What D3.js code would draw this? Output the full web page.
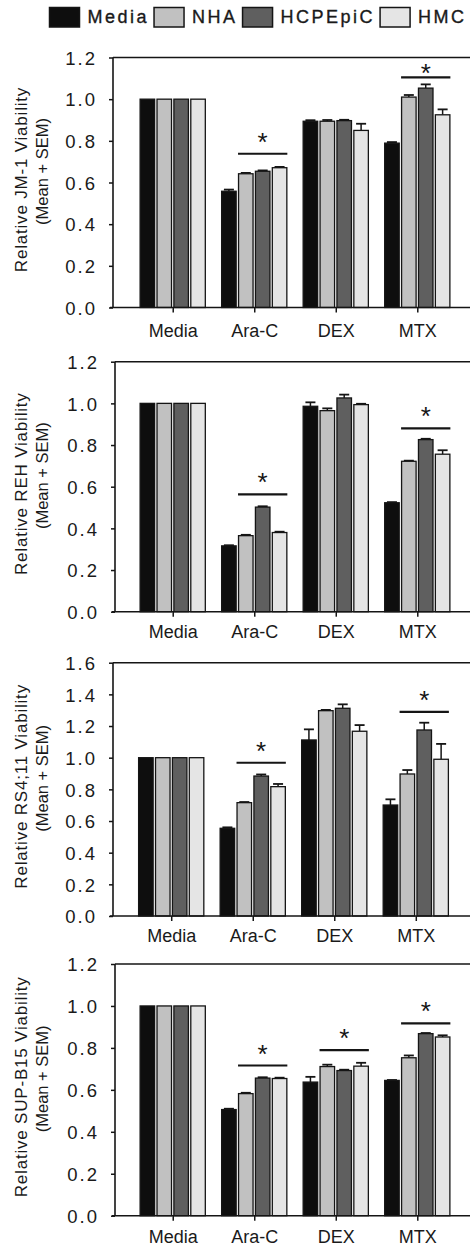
<!DOCTYPE html>
<html>
<head>
<meta charset="utf-8">
<script src="https://cdn.jsdelivr.net/npm/d3@7"></script>
<style>
  html, body { margin: 0; padding: 0; background: #fff; }
  svg { display: block; font-family: "Liberation Sans", Arial, sans-serif; }
</style>
</head>
<body>
<svg id="chart" width="470" height="1249"></svg>
<script>
// Treatments on the x axis and cell lines in each group
const categories = ["Media", "Ara-C", "DEX", "MTX"];
const series = ["Media", "NHA", "HCPEpiC", "HMC"];
const seriesColors = ["#0e0e0e", "#c1c1c1", "#5f5f5f", "#e5e5e5"];

// Relative viability, rows = treatment, columns = cell line
const jm1Mean = [[1, 1, 1, 1], [0.558, 0.642, 0.654, 0.671], [0.894, 0.894, 0.897, 0.850], [0.789, 1.010, 1.053, 0.925]];
const jm1Sem  = [[0, 0, 0, 0], [0.008, 0.004, 0.004, 0.004], [0.005, 0.006, 0.004, 0.032], [0.005, 0.010, 0.018, 0.026]];

const rehMean = [[1, 1, 1, 1], [0.316, 0.365, 0.502, 0.380], [0.986, 0.965, 1.026, 0.994], [0.523, 0.722, 0.826, 0.756]];
const rehSem  = [[0, 0, 0, 0], [0.003, 0.004, 0.004, 0.004], [0.019, 0.011, 0.016, 0.004], [0.003, 0.003, 0.004, 0.019]];

const rs411Mean = [[1, 1, 1, 1], [0.554, 0.716, 0.884, 0.817], [1.112, 1.297, 1.312, 1.167], [0.701, 0.897, 1.175, 0.990]];
const rs411Sem  = [[0, 0, 0, 0], [0.006, 0.004, 0.010, 0.017], [0.067, 0.005, 0.025, 0.039], [0.036, 0.025, 0.046, 0.097]];

const supMean = [[1, 1, 1, 1], [0.506, 0.582, 0.656, 0.654], [0.637, 0.711, 0.692, 0.713], [0.645, 0.753, 0.868, 0.852]];
const supSem  = [[0, 0, 0, 0], [0.004, 0.004, 0.004, 0.004], [0.025, 0.009, 0.004, 0.016], [0.002, 0.011, 0.003, 0.008]];

// Significance bars: treatment and the level of the bar
const jm1Stars = [["Ara-C", 0.738], ["MTX", 1.105]];
const rehStars = [["Ara-C", 0.563], ["MTX", 0.880]];
const rs411Stars = [["Ara-C", 0.968], ["MTX", 1.290]];
const supStars = [["Ara-C", 0.716], ["DEX", 0.789], ["MTX", 0.917]];

const yTicks12 = [0, 0.2, 0.4, 0.6, 0.8, 1.0, 1.2];
const yTicks16 = [0, 0.2, 0.4, 0.6, 0.8, 1.0, 1.2, 1.4, 1.6];

const panels = [
  { line: "JM-1",    mean: jm1Mean,   sem: jm1Sem,   stars: jm1Stars,   max: 1.2, ticks: yTicks12, top: 57.5,  bottom: 307.5,  axisX: 113, left: 113,   labelY: 30 },
  { line: "REH",     mean: rehMean,   sem: rehSem,   stars: rehStars,   max: 1.2, ticks: yTicks12, top: 361.7, bottom: 611.7,  axisX: 115, left: 113,   labelY: 27 },
  { line: "RS4;11",  mean: rs411Mean, sem: rs411Sem, stars: rs411Stars, max: 1.6, ticks: yTicks16, top: 662.7, bottom: 916,    axisX: 113, left: 111.5, labelY: 26.5 },
  { line: "SUP-B15", mean: supMean,   sem: supSem,   stars: supStars,   max: 1.2, ticks: yTicks12, top: 964,   bottom: 1215.7, axisX: 115, left: 113,   labelY: 27.5 }
];

const svg = d3.select("#chart");
const ink = "#151515";

// Legend across the top
const legend = svg.append("g").attr("class", "legend");
let lx = 49.5;
series.forEach((s, i) => {
  legend.append("rect")
    .attr("x", lx).attr("y", 7.5).attr("width", 30).attr("height", 19.5)
    .attr("fill", seriesColors[i]).attr("stroke", ink).attr("stroke-width", 1.5);
  const t = legend.append("text")
    .attr("x", lx + 38).attr("y", 23)
    .attr("font-size", 18).attr("letter-spacing", 2.5)
    .attr("fill", "#1a1a1a").attr("stroke", "#1a1a1a").attr("stroke-width", 0.35)
    .text(s);
  lx += 38 + t.node().getComputedTextLength() + 5;
});

panels.forEach(p => {
  const g = svg.append("g");
  const y = d3.scaleLinear().domain([0, p.max]).range([p.bottom, p.top]);
  const x = d3.scalePoint().domain(categories).range([p.left, p.left + 364]).padding(0.7325);
  const xs = d3.scaleBand().domain(series).range([-32.6, 32.6]).paddingInner(0.14);

  // Bars with upward SEM whiskers
  const groups = g.selectAll("g.grp").data(categories).join("g")
    .attr("transform", c => `translate(${x(c)},0)`);
  groups.each(function (c, ci) {
    const grp = d3.select(this);
    series.forEach((s, si) => {
      const v = p.mean[ci][si];
      const e = p.sem[ci][si];
      const bx = xs(s), bw = xs.bandwidth();
      if (e > 0) {
        const cx = bx + bw / 2;
        grp.append("line").attr("x1", cx).attr("x2", cx).attr("y1", y(v)).attr("y2", y(v + e))
          .attr("stroke", ink).attr("stroke-width", 1.5);
        grp.append("line").attr("x1", cx - 5).attr("x2", cx + 5).attr("y1", y(v + e)).attr("y2", y(v + e))
          .attr("stroke", ink).attr("stroke-width", 1.8);
      }
      grp.append("rect")
        .attr("x", bx).attr("width", bw)
        .attr("y", y(v)).attr("height", y(0) - y(v))
        .attr("fill", seriesColors[si]).attr("stroke", ink).attr("stroke-width", 1.3);
    });
  });

  // Significance bars with stars, spanning the three non-Media columns
  p.stars.forEach(([c, lvl]) => {
    const x1 = x(c) + xs("NHA") - 0.5;
    const x2 = x(c) + xs("HMC") + xs.bandwidth() + 0.5;
    g.append("line").attr("x1", x1).attr("x2", x2).attr("y1", y(lvl)).attr("y2", y(lvl))
      .attr("stroke", ink).attr("stroke-width", 2.2);
    // star centre sits 18px above the bar, but stays inside the frame
    const starCentre = Math.max(y(lvl) - 18, p.top + 9);
    g.append("text").attr("x", (x1 + x2) / 2).attr("y", starCentre + 15)
      .attr("text-anchor", "middle").attr("font-size", 26).attr("fill", ink)
      .text("*");
  });

  // Frame: left axis, top and bottom lines
  g.append("line").attr("x1", p.axisX).attr("x2", p.axisX).attr("y1", y(p.max)).attr("y2", y(0))
    .attr("stroke", ink).attr("stroke-width", 1.6);
  g.append("line").attr("x1", p.axisX - 3).attr("x2", 470).attr("y1", y(0)).attr("y2", y(0))
    .attr("stroke", ink).attr("stroke-width", 1.6);
  g.append("line").attr("x1", p.axisX).attr("x2", 470).attr("y1", y(p.max)).attr("y2", y(p.max))
    .attr("stroke", ink).attr("stroke-width", 1.6);

  // Y axis ticks and labels
  const yAxis = d3.axisLeft(y).tickValues(p.ticks).tickFormat(d3.format(".1f")).tickSize(4).tickPadding(12);
  const ya = g.append("g").attr("transform", `translate(${p.axisX},0)`).call(yAxis);
  ya.select(".domain").remove();
  ya.selectAll(".tick line").attr("stroke", ink).attr("stroke-width", 1.5);
  ya.selectAll(".tick text")
    .attr("font-size", 18.5).attr("letter-spacing", 2).attr("fill", "#1a1a1a")
    .attr("font-family", "'Liberation Sans', Arial, sans-serif")
    .attr("dy", "0.36em");

  // X axis ticks and category labels
  const xAxis = d3.axisBottom(x).tickSize(5).tickPadding(p.labelY - 18);
  const xa = g.append("g").attr("transform", `translate(0,${y(0)})`).call(xAxis);
  xa.select(".domain").remove();
  xa.selectAll(".tick line").attr("stroke", ink).attr("stroke-width", 1.5);
  xa.selectAll(".tick text")
    .attr("font-size", 18).attr("fill", "#1a1a1a")
    .attr("font-family", "'Liberation Sans', Arial, sans-serif")
    .attr("dy", "0.71em");

  // Y axis title, two lines
  const mid = (p.top + p.bottom) / 2;
  g.append("text")
    .attr("transform", `translate(26.5,${mid - 3}) rotate(-90)`)
    .attr("text-anchor", "middle").attr("font-size", 17).attr("letter-spacing", 0.8)
    .attr("fill", "#1a1a1a")
    .text(`Relative ${p.line} Viability`);
  g.append("text")
    .attr("transform", `translate(48,${mid - 11}) rotate(-90)`)
    .attr("text-anchor", "middle").attr("font-size", 16.5)
    .attr("fill", "#1a1a1a")
    .text("(Mean + SEM)");
});
</script>
</body>
</html>
